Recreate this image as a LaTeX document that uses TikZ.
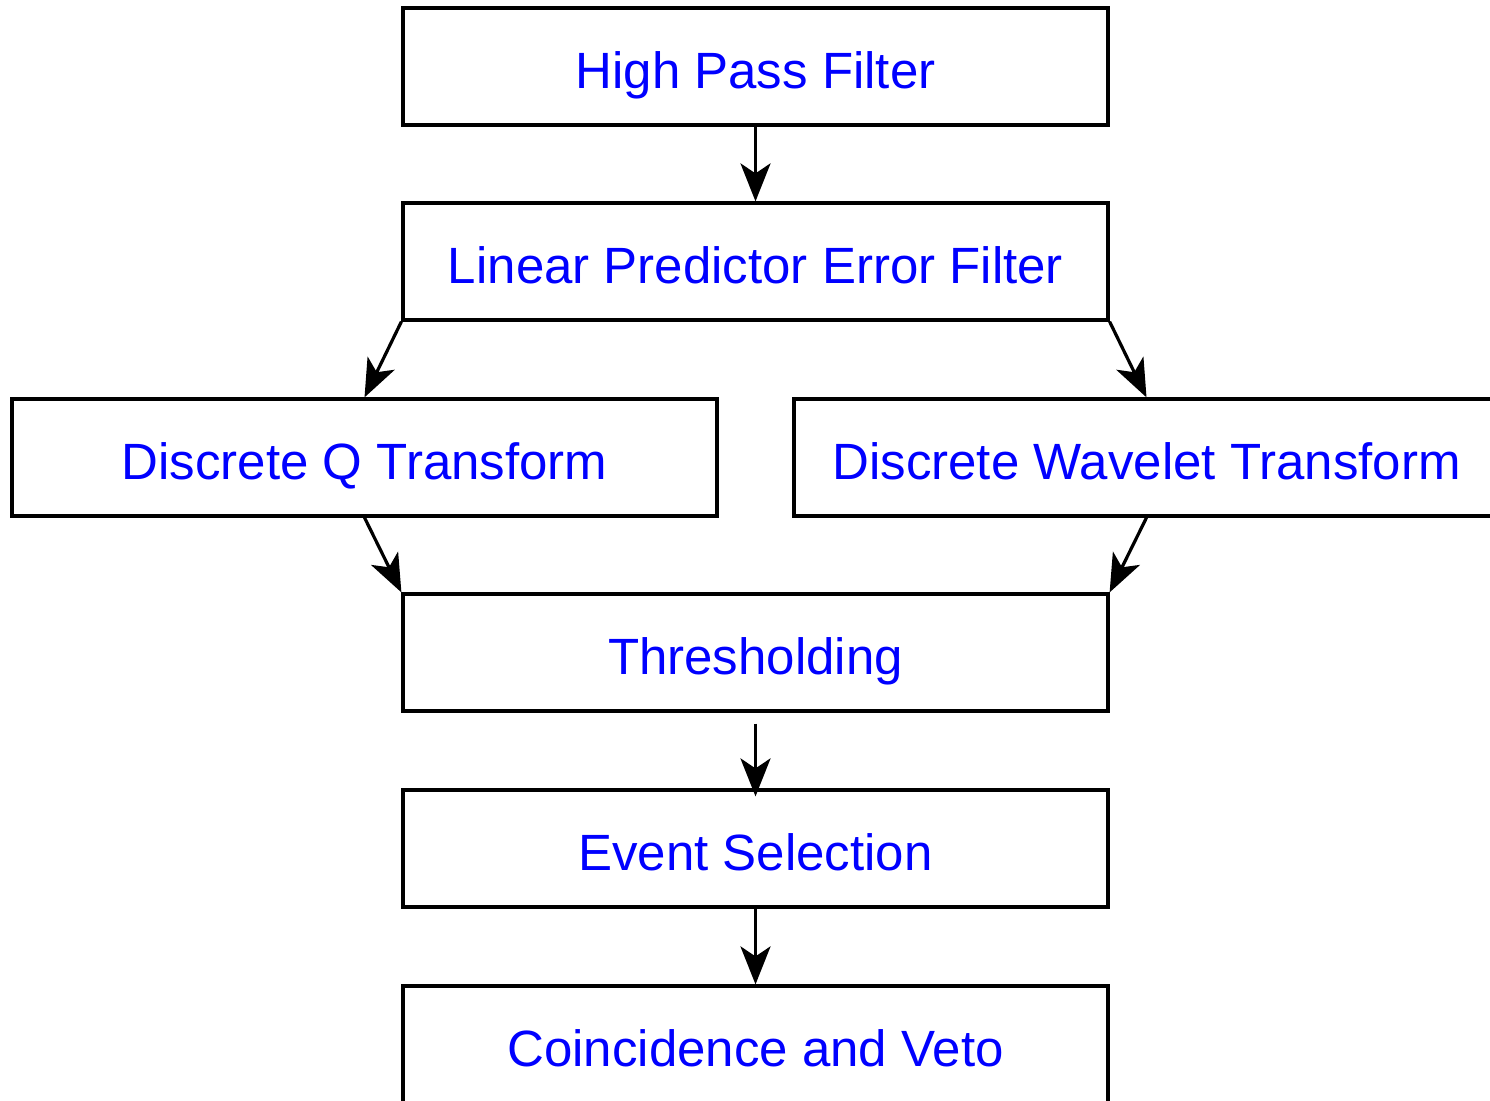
\documentclass[tikz,border=0pt]{standalone}
\usepackage{fontspec}
\setmainfont{Liberation Sans}
\usetikzlibrary{arrows.meta,calc}
\begin{document}
\begin{tikzpicture}[x=1pt,y=-1pt,
  box/.style={draw=black,line width=3.2pt,minimum width=705pt,minimum height=117pt,inner sep=0pt,
    text height=43pt,text depth=0pt,
    text=blue,font=\fontsize{51}{55}\selectfont},
  arr/.style={line width=3.2pt,-{Stealth[length=38pt,width=30pt,inset=10pt]}}]
\useasboundingbox (0,0) rectangle (1490,1100);
\clip (0,0) rectangle (1490,1100);
\node[box] (hpf) at (755.5,66.5) {High Pass Filter};
\node[box] (lpef) at (755.5,261.5) {Linear Predictor Error Filter};
\node[box] (dqt) at (364.5,457.5) {Discrete Q Transform};
\node[box] (dwt) at (1146.5,457.5) {Discrete Wavelet Transform};
\node[box] (thr) at (755.5,652.5) {Thresholding};
\node[box] (ev) at (755.5,848.5) {Event Selection};
\node[box] (co) at (755.5,1044.5) {Coincidence and Veto};
\draw[arr] (hpf.south) -- (lpef.north);
\draw[arr] (lpef.south west) -- (dqt.north);
\draw[arr] (lpef.south east) -- (dwt.north);
\draw[arr] (dqt.south) -- (thr.north west);
\draw[arr] (dwt.south) -- (thr.north east);
\draw[arr] ($(thr.south)+(0,11)$) -- ($(ev.north)+(0,8)$);
\draw[arr] (ev.south) -- (co.north);
\end{tikzpicture}
\end{document}
